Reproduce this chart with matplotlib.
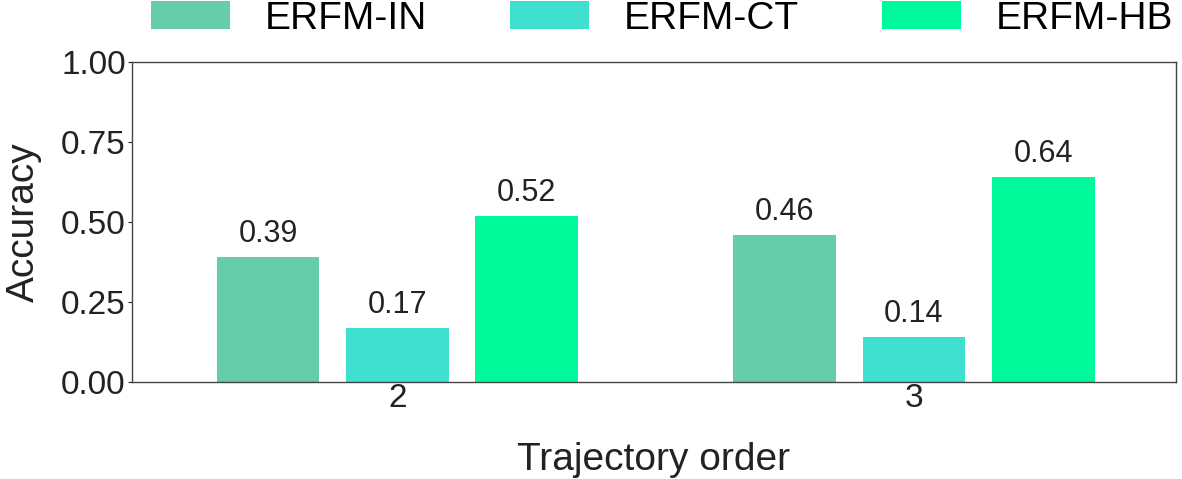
import numpy as np
import matplotlib.pyplot as plt

plt.rcParams['font.family'] = ['Liberation Sans', 'DejaVu Sans']

# 數據
orders = ['2', '3']
methods = ['ERFM-IN', 'ERFM-CT', 'ERFM-HB']
acc_in = [0.39, 0.46]
acc_ct = [0.17, 0.14]
acc_hb = [0.52, 0.64]
colors = ['#66CDAA', '#40E0D0', '#00FA9A']

fig, ax = plt.subplots(figsize=(11.82, 4.79), dpi=100)
fig.subplots_adjust(left=0.1117, right=0.9949, top=0.8706, bottom=0.2025)

x = np.arange(len(orders))
slot = 0.25
bar_w = 0.199
for i, (vals, name) in enumerate(zip([acc_in, acc_ct, acc_hb], methods)):
    pos = x + (i - 1) * slot
    bars = ax.bar(pos, vals, width=bar_w, color=colors[i], label=name)
    for b, v in zip(bars, vals):
        ax.text(b.get_x() + b.get_width() / 2, v + 0.025, f"{v:.2f}",
                ha='center', va='bottom', fontsize=22, color='#222222')

ax.set_xlim(-0.513, 1.507)
ax.set_ylim(0, 1.0)
ax.set_yticks([0, 0.25, 0.5, 0.75, 1.0])
ax.set_yticklabels(['0.00', '0.25', '0.50', '0.75', '1.00'])
ax.set_xticks(x)
ax.set_xticklabels(orders)
ax.tick_params(axis='both', labelsize=24, colors='#222222', length=3, width=0.8, pad=1.5)
ax.tick_params(axis='x', length=0, pad=1)
for s in ax.spines.values():
    s.set_color('#444444')
    s.set_linewidth(1.0)

ax.set_xlabel("Trajectory order", fontsize=28, color='#222222', labelpad=20)
ax.set_ylabel("Accuracy", fontsize=28, color='#222222', labelpad=14)

ax.legend(loc='lower center', bbox_to_anchor=(0.508, 1.079), ncol=3, frameon=False,
          fontsize=28, handlelength=2.03, handleheight=0.7, columnspacing=2.13,
          handletextpad=0.9, borderaxespad=0, borderpad=0)

plt.savefig('out.png', dpi=100)
